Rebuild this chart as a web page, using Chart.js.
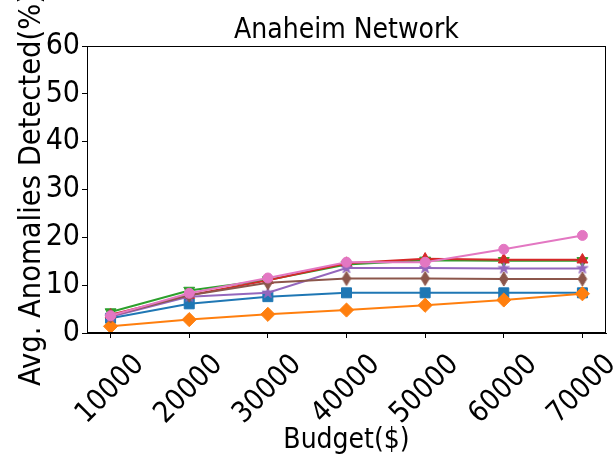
<!DOCTYPE html>
<html>
<head>
<meta charset="utf-8">
<script src="https://cdn.jsdelivr.net/npm/chart.js@4/dist/chart.umd.min.js"></script>
<style>
  html, body { margin: 0; padding: 0; background: #fff; }
</style>
</head>
<body>
<canvas id="chart" width="615" height="464"></canvas>
<script>
const budgets = [10000, 20000, 30000, 40000, 50000, 60000, 70000];
const yTickValues = [0, 10, 20, 30, 40, 50, 60];

const blueSquare = [3.1, 6.1, 7.6, 8.4, 8.4, 8.4, 8.4];
const orangeDiamond = [1.4, 2.8, 3.9, 4.8, 5.8, 6.9, 8.2];
const greenTriDown = [4.4, 8.9, 11.1, 14.3, 15.2, 15.1, 15.1];
const redTriUp = [3.8, 7.9, 11.0, 14.6, 15.5, 15.3, 15.3];
const purpleStar = [3.4, 7.6, 8.4, 13.6, 13.6, 13.5, 13.5];
const brownThinDiamond = [3.6, 7.9, 10.5, 11.4, 11.4, 11.3, 11.3];
const pinkCircle = [3.6, 8.3, 11.5, 14.8, 14.8, 17.5, 20.4];

const FONT = "'DejaVu Sans Condensed', 'DejaVu Sans', sans-serif";

// little canvases for the marker shapes Chart.js lacks
function markerCanvas(color, drawPath) {
    const c = document.createElement('canvas');
    c.width = 20; c.height = 20;
    const ctx = c.getContext('2d');
    ctx.fillStyle = color;
    ctx.strokeStyle = color;
    ctx.lineWidth = 1;
    ctx.beginPath();
    drawPath(ctx, 10, 10);
    ctx.closePath();
    ctx.fill();
    ctx.stroke();
    return c;
}

function star(ctx, cx, cy) {
    const R = 5.8, r = R * 0.382;
    for (let i = 0; i < 10; i++) {
        const a = -Math.PI / 2 + i * Math.PI / 5;
        const rad = i % 2 == 0 ? R : r;
        ctx.lineTo(cx + rad * Math.cos(a), cy + rad * Math.sin(a));
    }
}

function thinDiamond(ctx, cx, cy) {
    const h = 7.07, w = 4.24;
    ctx.moveTo(cx, cy - h);
    ctx.lineTo(cx + w, cy);
    ctx.lineTo(cx, cy + h);
    ctx.lineTo(cx - w, cy);
}

function series(data, color, style, radius, rotation, i) {
    return {
        data: data.map((v, k) => ({x: budgets[k], y: v})),
        borderColor: color,
        backgroundColor: color,
        pointBackgroundColor: color,
        pointBorderColor: color,
        borderWidth: 2,
        pointBorderWidth: 1,
        pointStyle: style,
        pointRadius: radius,
        pointRotation: rotation,
        order: 10 - i,
    };
}

const frame = {
    id: 'frame',
    afterDatasetsDraw(chart) {
        const {ctx, chartArea: a} = chart;
        ctx.save();
        ctx.strokeStyle = '#000';
        ctx.lineWidth = 1;
        ctx.strokeRect(a.left + 0.5, a.top + 0.5, a.right - a.left - 1, a.bottom - a.top - 1);
        ctx.restore();
    },
    afterDraw(chart) {
        const {ctx, chartArea: a} = chart;
        ctx.save();
        ctx.fillStyle = '#000';
        ctx.font = `28px ${FONT}`;
        ctx.textAlign = 'center';
        ctx.textBaseline = 'alphabetic';
        ctx.fillText('Anaheim Network', (a.left + a.right) / 2, a.top - 8);
        ctx.restore();
    }
};

new Chart(document.getElementById('chart'), {
    type: 'line',
    data: {
        datasets: [
            series(blueSquare, '#1f77b4', 'rect', 7.07, 0, 0),
            series(orangeDiamond, '#ff7f0e', 'rectRot', 7.07, 0, 1),
            series(greenTriDown, '#2ca02c', 'triangle', 6.3, 180, 2),
            series(redTriUp, '#d62728', 'triangle', 6.3, 0, 3),
            series(purpleStar, '#9467bd', markerCanvas('#9467bd', star), 6, 0, 4),
            series(brownThinDiamond, '#8c564b', markerCanvas('#8c564b', thinDiamond), 7, 0, 5),
            series(pinkCircle, '#e377c2', 'circle', 5, 0, 6),
        ]
    },
    options: {
        responsive: false,
        animation: false,
        layout: { padding: { left: 0, right: 9, top: 46, bottom: 0 } },
        plugins: { legend: { display: false }, tooltip: { enabled: false } },
        scales: {
            x: {
                type: 'linear',
                min: 7000,
                max: 73000,
                afterBuildTicks: s => { s.ticks = budgets.map(v => ({value: v})); },
                afterFit: s => { s.height = 131; s.paddingLeft = 0; s.paddingRight = 0; },
                grid: { display: true, drawOnChartArea: false, drawTicks: true, tickLength: 5, color: '#000' },
                border: { display: true, color: '#000' },
                ticks: {
                    autoSkip: false,
                    minRotation: 45,
                    maxRotation: 45,
                    labelOffset: 29,
                    padding: 10,
                    color: '#000',
                    font: { family: FONT, size: 29 },
                    callback: v => String(v),
                },
                title: {
                    display: true,
                    text: 'Budget($)',
                    color: '#000',
                    font: { family: FONT, size: 28 },
                    padding: { top: 0, bottom: 6 },
                },
            },
            y: {
                min: 0,
                max: 60,
                afterBuildTicks: s => { s.ticks = yTickValues.map(v => ({value: v})); },
                afterFit: s => { s.width = 87; s.paddingTop = 0; s.paddingBottom = 0; },
                grid: { display: true, drawOnChartArea: false, drawTicks: true, tickLength: 5, color: '#000' },
                border: { display: true, color: '#000' },
                ticks: {
                    padding: 2,
                    color: '#000',
                    font: { family: FONT, size: 30 },
                },
                title: {
                    display: true,
                    text: 'Avg. Anomalies Detected(%)',
                    color: '#000',
                    font: { family: FONT, size: 30.5 },
                    padding: { top: 14, bottom: 0 },
                },
            },
        },
    },
    plugins: [frame],
});
</script>
</body>
</html>
